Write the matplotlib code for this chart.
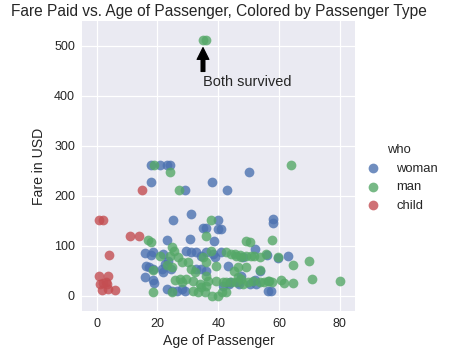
import matplotlib
matplotlib.use('Agg')
import matplotlib.pyplot as plt

# Age / fare, one pair of lists per passenger type
woman_age = [18, 21, 23, 24, 18, 38, 29, 43, 50, 25, 31, 40, 58, 58, 35, 36, 40, 41,
             23, 30.6, 38.5, 52, 16, 18, 18.7, 29.5, 31.2, 32.8, 34.5, 36.1, 38.3, 38.9,
             41, 48, 56, 59.8, 62.8, 23.6, 22.5, 16.3, 17.4, 21.4, 22, 24.4, 18.7, 32.8,
             34.5, 36.1, 43.2, 53.6, 47.5, 16, 18.7, 19, 23.1, 24.7, 26.4, 28, 29, 41.6,
             43.7, 47, 50.3, 52.5, 46.6, 52.1, 56.3, 57.3, 22, 43.9]
woman_fare = [263, 263, 263, 263, 227.5, 227.5, 211.3, 211.3, 247.5, 151.55, 164.9, 151.55,
              153.5, 146.5, 135.6, 135.6, 134.5, 134.5,
              113, 115, 111, 95, 87, 82, 89, 91, 89, 88, 81, 89, 85, 78,
              88, 78, 83, 77, 80, 71, 65, 60, 58, 55, 48, 55, 55, 55,
              55, 51, 61, 51, 41, 39, 33, 27, 15, 11, 11, 15, 11, 21,
              25, 25, 25, 25, 29, 32, 11, 11, 85, 29]

man_age = [35, 36, 19, 64, 24, 27, 37.7,
           17, 17.8, 20.7, 24.2, 25.3, 26.9, 28.2, 23.1, 24.7, 18.7, 25.8, 27.5, 28,
           18.7, 24.9, 35.9, 35, 37.7, 36.1, 39.4, 30.1, 31.2, 32.3, 36.1, 36.7, 29.5,
           31.7, 33.9, 39.4, 41.6, 36.1, 34.5, 31.7, 33.4, 35.6, 37.8, 40, 41.2,
           49.2, 50.3, 42.6, 44.3, 45.9, 47.5, 49.2, 50.8, 51.9, 53.6, 55.8,
           46.4, 49.2, 45.3, 53.8, 46.4, 47.5, 45.9, 42.6, 44.3, 48.1, 49.7, 51.4,
           53.6, 55.2, 56.3, 42.6, 57.8, 59.8, 64.6, 69.9, 56.7, 57.8, 60.6, 61.7,
           64.6, 70.8, 80, 24.7, 45.6, 47.2]
man_fare = [512.33, 512.33, 263, 263, 247.52, 211.5, 152,
            112, 108.6, 80, 81, 91, 78, 68, 63, 58, 53, 33, 35, 28,
            8, 8, 120, 78, 91, 68, 61, 68, 55, 48, 41, 31, 35,
            31, 25, 31, 28, 21, 18, 11, 8, 8, 0, 0, 8,
            111, 108, 88, 85, 81, 78, 81, 81, 81, 78, 85,
            58, 58, 51, 52, 38, 35, 28, 28, 28, 25, 28, 31,
            29, 28, 31, 8, 113, 79, 63, 71, 31, 28, 33, 27,
            27, 35, 30, 99, 85, 82]

child_age = [0.92, 2, 11, 14, 15, 4, 0.8, 3.9, 2.2, 3, 1.2, 3.4, 1.7, 3.9, 5.9]
child_fare = [151.55, 151.55, 120, 120, 211.34, 81.86, 40, 40, 26, 28, 25, 24, 11.3, 14.6, 12.6]

groups = ['woman', 'man', 'child']
ages = [woman_age, man_age, child_age]
fares = [woman_fare, man_fare, child_fare]
colors = ['#4C72B0', '#55A868', '#C44E52']

plt.rcParams['font.family'] = ['Liberation Sans', 'DejaVu Sans']
plt.rcParams['text.color'] = '.15'
plt.rcParams['axes.labelcolor'] = '.15'
plt.rcParams['xtick.color'] = '.15'
plt.rcParams['ytick.color'] = '.15'

fig = plt.figure(figsize=(449 / 72, 357 / 72), dpi=72)
ax = fig.add_axes([82 / 449, 1 - 311 / 357, 273 / 449, 290 / 357])
ax.set_facecolor('#EAEAF2')
for s in ax.spines.values():
    s.set_visible(False)
ax.grid(True, color='white', linewidth=1.2)
ax.set_axisbelow(True)
ax.tick_params(length=0, labelsize=12.5, pad=7)

handles = []
for g, a, f, c in zip(groups, ages, fares, colors):
    h = ax.scatter(a, f, s=95, color=c, alpha=0.8, linewidths=0, label=g)
    handles.append(h)

ax.set_xlim(-4.8, 85)
ax.set_ylim(-30, 550)
ax.set_xticks([0, 20, 40, 60, 80])
ax.set_yticks([0, 100, 200, 300, 400, 500])

ax.annotate('Both survived', xy=(35, 500), xytext=(35, 420), fontsize=14.5,
            arrowprops=dict(facecolor='black', shrink=0.05))

ax.set_title('Fare Paid vs. Age of Passenger, Colored by Passenger Type', fontsize=15.5, pad=5)
ax.set_xlabel('Age of Passenger', fontsize=14)
ax.set_ylabel('Fare in USD', fontsize=14, labelpad=8)

leg = fig.legend(handles=handles, labels=groups, title='who', loc='center left',
                 bbox_to_anchor=(348 / 449, 1 - 178 / 357), frameon=False,
                 fontsize=13, title_fontsize=13, handletextpad=0.8)

fig.savefig('out.png', dpi=72)
